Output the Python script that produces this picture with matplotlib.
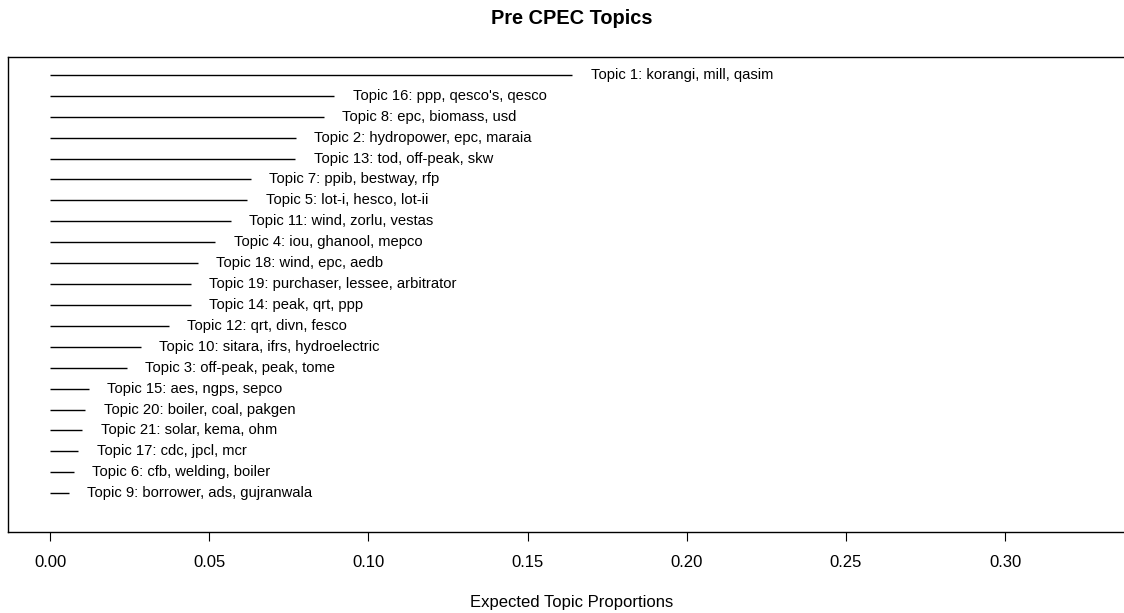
import matplotlib
matplotlib.use("Agg")
import matplotlib.pyplot as plt

plt.rcParams['font.family'] = ['Liberation Sans', 'DejaVu Sans']

topics = ["Topic 1: korangi, mill, qasim",
          "Topic 16: ppp, qesco's, qesco",
          "Topic 8: epc, biomass, usd",
          "Topic 2: hydropower, epc, maraia",
          "Topic 13: tod, off-peak, skw",
          "Topic 7: ppib, bestway, rfp",
          "Topic 5: lot-i, hesco, lot-ii",
          "Topic 11: wind, zorlu, vestas",
          "Topic 4: iou, ghanool, mepco",
          "Topic 18: wind, epc, aedb",
          "Topic 19: purchaser, lessee, arbitrator",
          "Topic 14: peak, qrt, ppp",
          "Topic 12: qrt, divn, fesco",
          "Topic 10: sitara, ifrs, hydroelectric",
          "Topic 3: off-peak, peak, tome",
          "Topic 15: aes, ngps, sepco",
          "Topic 20: boiler, coal, pakgen",
          "Topic 21: solar, kema, ohm",
          "Topic 17: cdc, jpcl, mcr",
          "Topic 6: cfb, welding, boiler",
          "Topic 9: borrower, ads, gujranwala"]
proportions = [0.1640, 0.0893, 0.0859, 0.0772, 0.0770, 0.0631, 0.0619,
               0.0568, 0.0518, 0.0463, 0.0441, 0.0441, 0.0372, 0.0284,
               0.0241, 0.0121, 0.0111, 0.0101, 0.0089, 0.0074, 0.0058]
xticks = [0.00, 0.05, 0.10, 0.15, 0.20, 0.25, 0.30]
xtick_labels = ["0.00", "0.05", "0.10", "0.15", "0.20", "0.25", "0.30"]

W, H = 1124, 613
fig = plt.figure(figsize=(W / 100, H / 100), dpi=100)
left_px, right_px, top_px, bot_px = 8.4, 1136.0, 57.3, 531.7
ax = fig.add_axes([left_px / W, 1 - bot_px / H, (right_px - left_px) / W, (bot_px - top_px) / H])

K = len(topics)
pmax = max(proportions)
pmin = min(proportions)
xr = 2 * pmax
ax.set_xlim(-0.04 * xr, xr * 1.04)
ax.set_ylim(-0.04 * K, K * 1.04)

for i, (lab, p) in enumerate(zip(topics, proportions)):
    y = K - i
    ax.plot([0, p], [y, y], color='black', lw=1.0, solid_capstyle='butt')
    ax.text(p + pmin, y, lab, ha='left', va='center', fontsize=10.6, color='black')

ax.set_yticks([])
ax.set_xticks(xticks)
ax.set_xticklabels(xtick_labels, fontsize=12)
ax.tick_params(axis='x', direction='out', length=6.5, width=0.8, pad=10)
for s in ax.spines.values():
    s.set_linewidth(1.0)

fig.text(572 / W, 1 - 18 / H, "Pre CPEC Topics", ha='center', va='center',
         fontsize=14.4, fontweight='bold')
fig.text(572 / W, 1 - 602 / H, "Expected Topic Proportions", ha='center', va='center',
         fontsize=12)

fig.savefig("out.png", dpi=100)
